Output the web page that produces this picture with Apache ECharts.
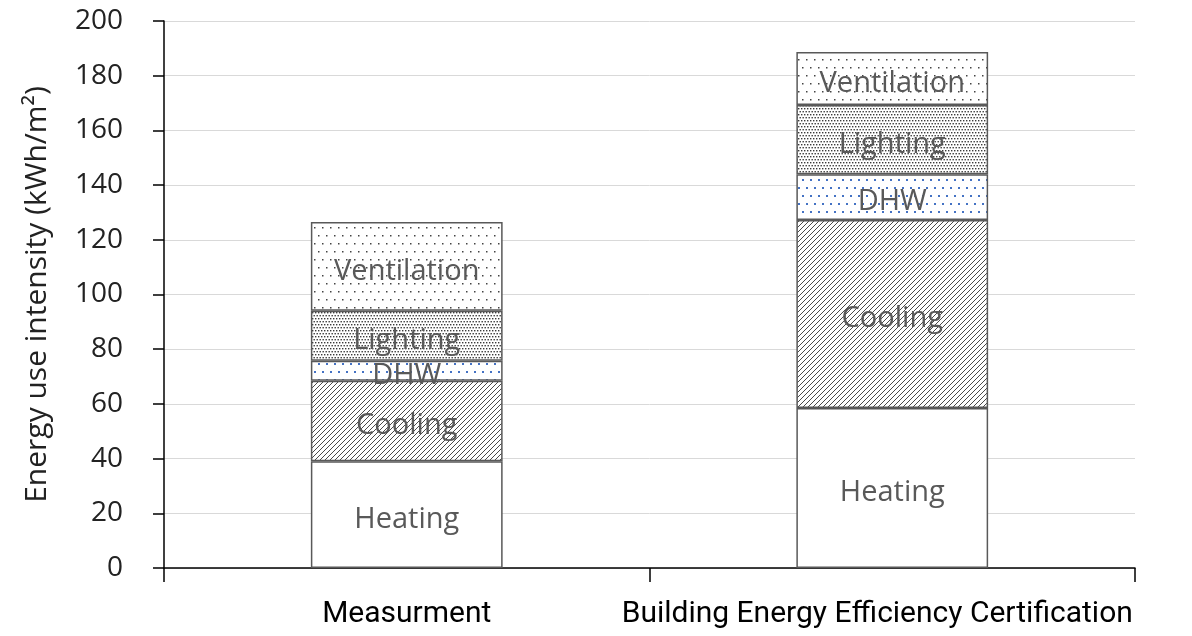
<!DOCTYPE html>
<html>
<head>
<meta charset="utf-8">
<script src="https://cdn.jsdelivr.net/npm/echarts@6/dist/echarts.min.js"></script>
<style>
html,body{margin:0;padding:0;background:#fff;}
#chart{width:1192px;height:636px;}
</style>
</head>
<body>
<div id="chart"></div>
<script>
const categories = ['Measurment', 'Building Energy Efficiency Certification'];
const heating = [39, 58.5];
const cooling = [29.5, 68.7];
const dhw = [7.3, 16.8];
const lighting = [18.3, 25.3];
const ventilation = [32.4, 19.4];
const yTicks = [0, 200, 20];

function makePattern(w, h, draw) {
  const c = document.createElement('canvas');
  c.width = w; c.height = h;
  const ctx = c.getContext('2d');
  ctx.fillStyle = '#ffffff';
  ctx.fillRect(0, 0, w, h);
  draw(ctx);
  return { image: c, repeat: 'repeat' };
}
const hatch = makePattern(5, 5, ctx => {
  ctx.fillStyle = '#4a4a4a';
  for (let i = 0; i < 5; i++) ctx.fillRect(i, 4 - i, 1, 1);
});
const denseDots = makePattern(6, 6, ctx => {
  ctx.fillStyle = '#3a3a3a';
  ctx.fillRect(0, 0, 1.4, 1.4); ctx.fillRect(3, 0, 1.4, 1.4);
  ctx.fillRect(1.5, 3, 1.4, 1.4); ctx.fillRect(4.5, 3, 1.4, 1.4);
});
const sparseDots = makePattern(16, 16, ctx => {
  ctx.fillStyle = '#444';
  ctx.fillRect(2, 3, 1.5, 1.5); ctx.fillRect(10, 3, 1.5, 1.5);
  ctx.fillRect(6, 11, 1.5, 1.5); ctx.fillRect(14, 11, 1.5, 1.5);
});
const blueDots = makePattern(16, 16, ctx => {
  ctx.fillStyle = '#4472C4';
  ctx.fillRect(2, 3, 2, 2); ctx.fillRect(10, 3, 2, 2);
  ctx.fillRect(6, 11, 2, 2); ctx.fillRect(14, 11, 2, 2);
});

const FONT = 'Open Sans';
function seg(name, data, fill) {
  return {
    name, type: 'bar', stack: 'total', data, barWidth: '39.5%',
    itemStyle: { color: fill, borderColor: '#595959', borderWidth: 1.5 },
    label: { show: true, position: 'inside', formatter: name, color: '#595959',
             fontSize: 29, fontFamily: FONT, offset: [0, 5] },
    emphasis: { disabled: true }
  };
}

const catData = categories.map((c, i) => i === 1
  ? { value: c, textStyle: { padding: [0, 30, 0, 0] } }
  : { value: c });

const chart = echarts.init(document.getElementById('chart'));
chart.setOption({
  animation: false,
  backgroundColor: '#ffffff',
  grid: { left: 164, right: 57, top: 21, bottom: 68 },
  xAxis: {
    type: 'category', data: catData,
    axisLine: { lineStyle: { color: '#000', width: 1.5 } },
    axisTick: { show: true, length: 14, lineStyle: { color: '#000', width: 1.5 } },
    axisLabel: { color: '#000', fontSize: 30, fontFamily: 'Roboto', margin: 31,
                 interval: 0, hideOverlap: false }
  },
  yAxis: {
    type: 'value', min: yTicks[0], max: yTicks[1], interval: yTicks[2],
    name: 'Energy use intensity (kWh/m²)', nameLocation: 'middle', nameGap: 112,
    nameTextStyle: { color: '#222', fontSize: 30, fontFamily: FONT },
    axisLine: { show: true, lineStyle: { color: '#000', width: 1.5 } },
    axisTick: { show: true, length: 11, lineStyle: { color: '#000', width: 1.5 } },
    axisLabel: { color: '#222', fontSize: 28, fontFamily: FONT, margin: 41 },
    splitLine: { lineStyle: { color: '#d9d9d9', width: 1 } }
  },
  series: [
    seg('Heating', heating, '#ffffff'),
    seg('Cooling', cooling, hatch),
    seg('DHW', dhw, blueDots),
    seg('Lighting', lighting, denseDots),
    seg('Ventilation', ventilation, sparseDots)
  ]
});
</script>
</body>
</html>
